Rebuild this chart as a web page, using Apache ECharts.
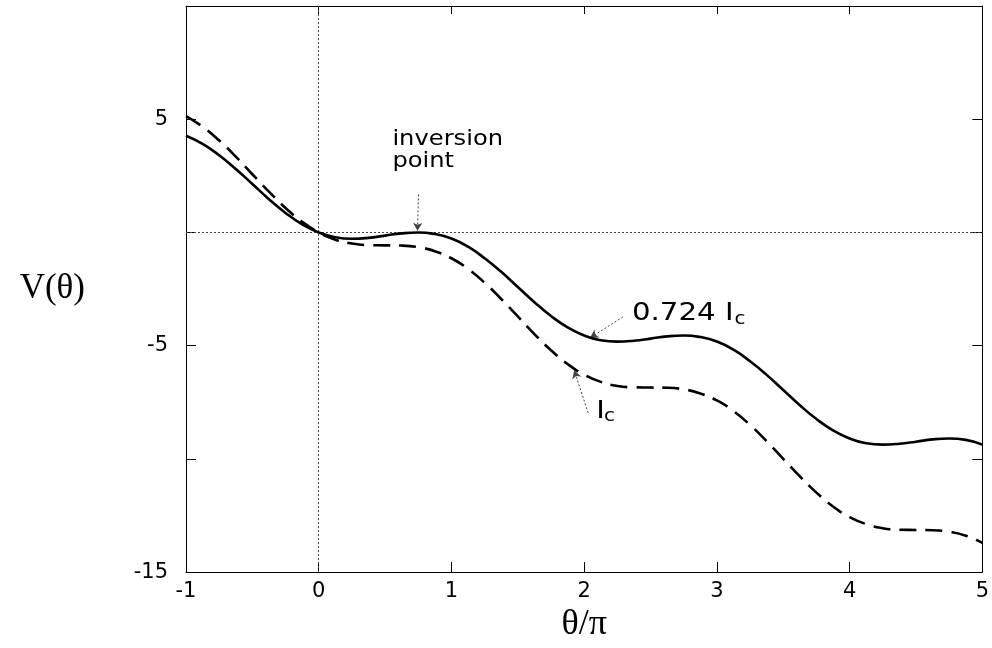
<!DOCTYPE html>
<html>
<head>
<meta charset="utf-8">
<script src="https://cdn.jsdelivr.net/npm/echarts@6/dist/echarts.min.js"></script>
<style>
html,body{margin:0;padding:0;background:#fff;}
#chart{width:992px;height:648px;}
</style>
</head>
<body>
<div id="chart"></div>
<script>
// theta / pi sample positions
const thetaOverPi = [-1,-0.875,-0.75,-0.625,-0.5,-0.375,-0.25,-0.125,0,0.125,0.25,0.375,0.5,0.625,0.75,0.875,1,1.125,1.25,1.375,1.5,1.625,1.75,1.875,2,2.125,2.25,2.375,2.5,2.625,2.75,2.875,3,3.125,3.25,3.375,3.5,3.625,3.75,3.875,4,4.125,4.25,4.375,4.5,4.625,4.75,4.875,5];
// solid curve: bias 0.724 Ic
const vSolid = [4.27,3.91,3.41,2.80,2.14,1.47,0.86,0.36,0,-0.21,-0.28,-0.24,-0.14,-0.04,0.00,-0.07,-0.27,-0.63,-1.14,-1.74,-2.41,-3.08,-3.69,-4.19,-4.55,-4.76,-4.82,-4.78,-4.69,-4.59,-4.55,-4.62,-4.82,-5.18,-5.69,-6.29,-6.96,-7.63,-8.24,-8.74,-9.10,-9.31,-9.37,-9.33,-9.24,-9.14,-9.10,-9.16,-9.37];
// dashed curve: bias Ic
const vDashed = [5.14,4.67,4.06,3.35,2.57,1.80,1.08,0.47,0,-0.32,-0.49,-0.56,-0.57,-0.58,-0.65,-0.83,-1.14,-1.61,-2.22,-2.94,-3.71,-4.49,-5.20,-5.81,-6.28,-6.60,-6.78,-6.84,-6.85,-6.86,-6.93,-7.11,-7.42,-7.89,-8.50,-9.22,-10.00,-10.77,-11.49,-12.10,-12.57,-12.88,-13.06,-13.13,-13.14,-13.15,-13.22,-13.39,-13.71];
// labelled ticks
const xTickLabels = [-1,0,1,2,3,4,5];
const yTickLabels = [-15,-5,5];

const solidData = thetaOverPi.map((x,i)=>[x,vSolid[i]]);
const dashedData = thetaOverPi.map((x,i)=>[x,vDashed[i]]);

const chart = echarts.init(document.getElementById('chart'), null, {renderer:'canvas'});
const sans = 'DejaVu Sans';
const serif = 'Liberation Serif';
const axisLine = {show:true, onZero:false, lineStyle:{color:'#000', width:1}};

const option = {
  animation:false,
  backgroundColor:'#fff',
  grid:{left:186, right:9, top:6, bottom:68, containLabel:false},
  xAxis:[{
    type:'value', position:'bottom', min:-1, max:5, interval:1,
    axisLine:axisLine,
    axisTick:{show:true, inside:true, length:10, lineStyle:{color:'#000'}},
    axisLabel:{show:true, margin:9, fontFamily:sans, fontSize:21, color:'#000',
      formatter:v=>xTickLabels.includes(v)?String(v):''},
    splitLine:{show:false},
    name:'θ/π', nameLocation:'middle', nameGap:32,
    nameTextStyle:{fontFamily:serif, fontSize:36, color:'#000'}
  },{
    type:'value', position:'top', min:-1, max:5, interval:1,
    axisLine:axisLine,
    axisTick:{show:true, inside:true, length:8, lineStyle:{color:'#000'}},
    axisLabel:{show:false}, splitLine:{show:false}
  }],
  yAxis:[{
    type:'value', position:'left', min:-15, max:10, interval:5,
    axisLine:axisLine,
    axisTick:{show:true, inside:true, length:10, lineStyle:{color:'#000'}},
    axisLabel:{show:true, margin:18, fontFamily:sans, fontSize:21, color:'#000',
      formatter:v=>yTickLabels.includes(v)?String(v):''},
    splitLine:{show:false},
    name:'V(θ)', nameLocation:'middle', nameRotate:0, nameGap:101,
    nameTextStyle:{fontFamily:serif, fontSize:35, color:'#000', align:'right', padding:[0,0,20,0]}
  },{
    type:'value', position:'right', min:-15, max:10, interval:5,
    axisLine:axisLine,
    axisTick:{show:true, inside:true, length:10, lineStyle:{color:'#000'}},
    axisLabel:{show:false}, splitLine:{show:false}
  }],
  series:[{
    name:'0.724 Ic', type:'line', data:solidData, smooth:true, showSymbol:false,
    xAxisIndex:0, yAxisIndex:0, z:5,
    lineStyle:{color:'#000', width:2.6, type:'solid'},
    markLine:{
      silent:true, animation:false, symbol:['none','none'],
      label:{show:false},
      lineStyle:{color:'#444', width:1, type:[2,2]},
      data:[
        {xAxis:0},
        {yAxis:0},
        [{coord:[0.752,1.68]},{coord:[0.744,0.07], symbol:'arrow', symbolSize:[7,8]}],
        [{coord:[2.293,-3.73]},{coord:[2.045,-4.65], symbol:'arrow', symbolSize:[7,8]}],
        [{coord:[2.030,-7.97]},{coord:[1.925,-6.09], symbol:'arrow', symbolSize:[7,8]}]
      ]
    }
  },{
    name:'Ic', type:'line', data:dashedData, smooth:true, showSymbol:false,
    xAxisIndex:0, yAxisIndex:0, z:5,
    lineStyle:{color:'#000', width:2.6, type:[17,9]}
  }]
};
chart.setOption(option);

// annotation texts positioned in data coordinates through the chart's own scales
function px(x,y){ return chart.convertToPixel({xAxisIndex:0, yAxisIndex:0}, [x,y]); }
const measureCtx = document.createElement('canvas').getContext('2d');
function textWidth(t, size){ measureCtx.font = size+'px "'+sans+'"'; return measureCtx.measureText(t).width; }

const pInv = px(0.555, 4.60);
const pA = px(2.360, -3.09);
const pB = px(2.092, -7.40);
const mainSize = 25, subSize = 17, stretch = 1.17;
const txt = (p, text, size, dx, dy, sx) => ({
  type:'text', x:p[0]+(dx||0), y:p[1]+(dy||0), scaleX:sx||1, silent:true,
  style:{text:text, fill:'#000', font:size+'px "'+sans+'"', align:'left', verticalAlign:'top', lineHeight:22}
});
chart.setOption({
  graphic:[
    txt(pInv, 'inversion\npoint', 22, 0, 0, 1.1),
    txt(pA, '0.724 I', mainSize, 0, 0, stretch),
    txt(pA, 'c', subSize, textWidth('0.724 I', mainSize)*stretch + 1, 6, stretch),
    txt(pB, 'I', mainSize, 0, 0, stretch),
    txt(pB, 'c', subSize, textWidth('I', mainSize)*stretch - 1, 6, stretch)
  ]
});
</script>
</body>
</html>
